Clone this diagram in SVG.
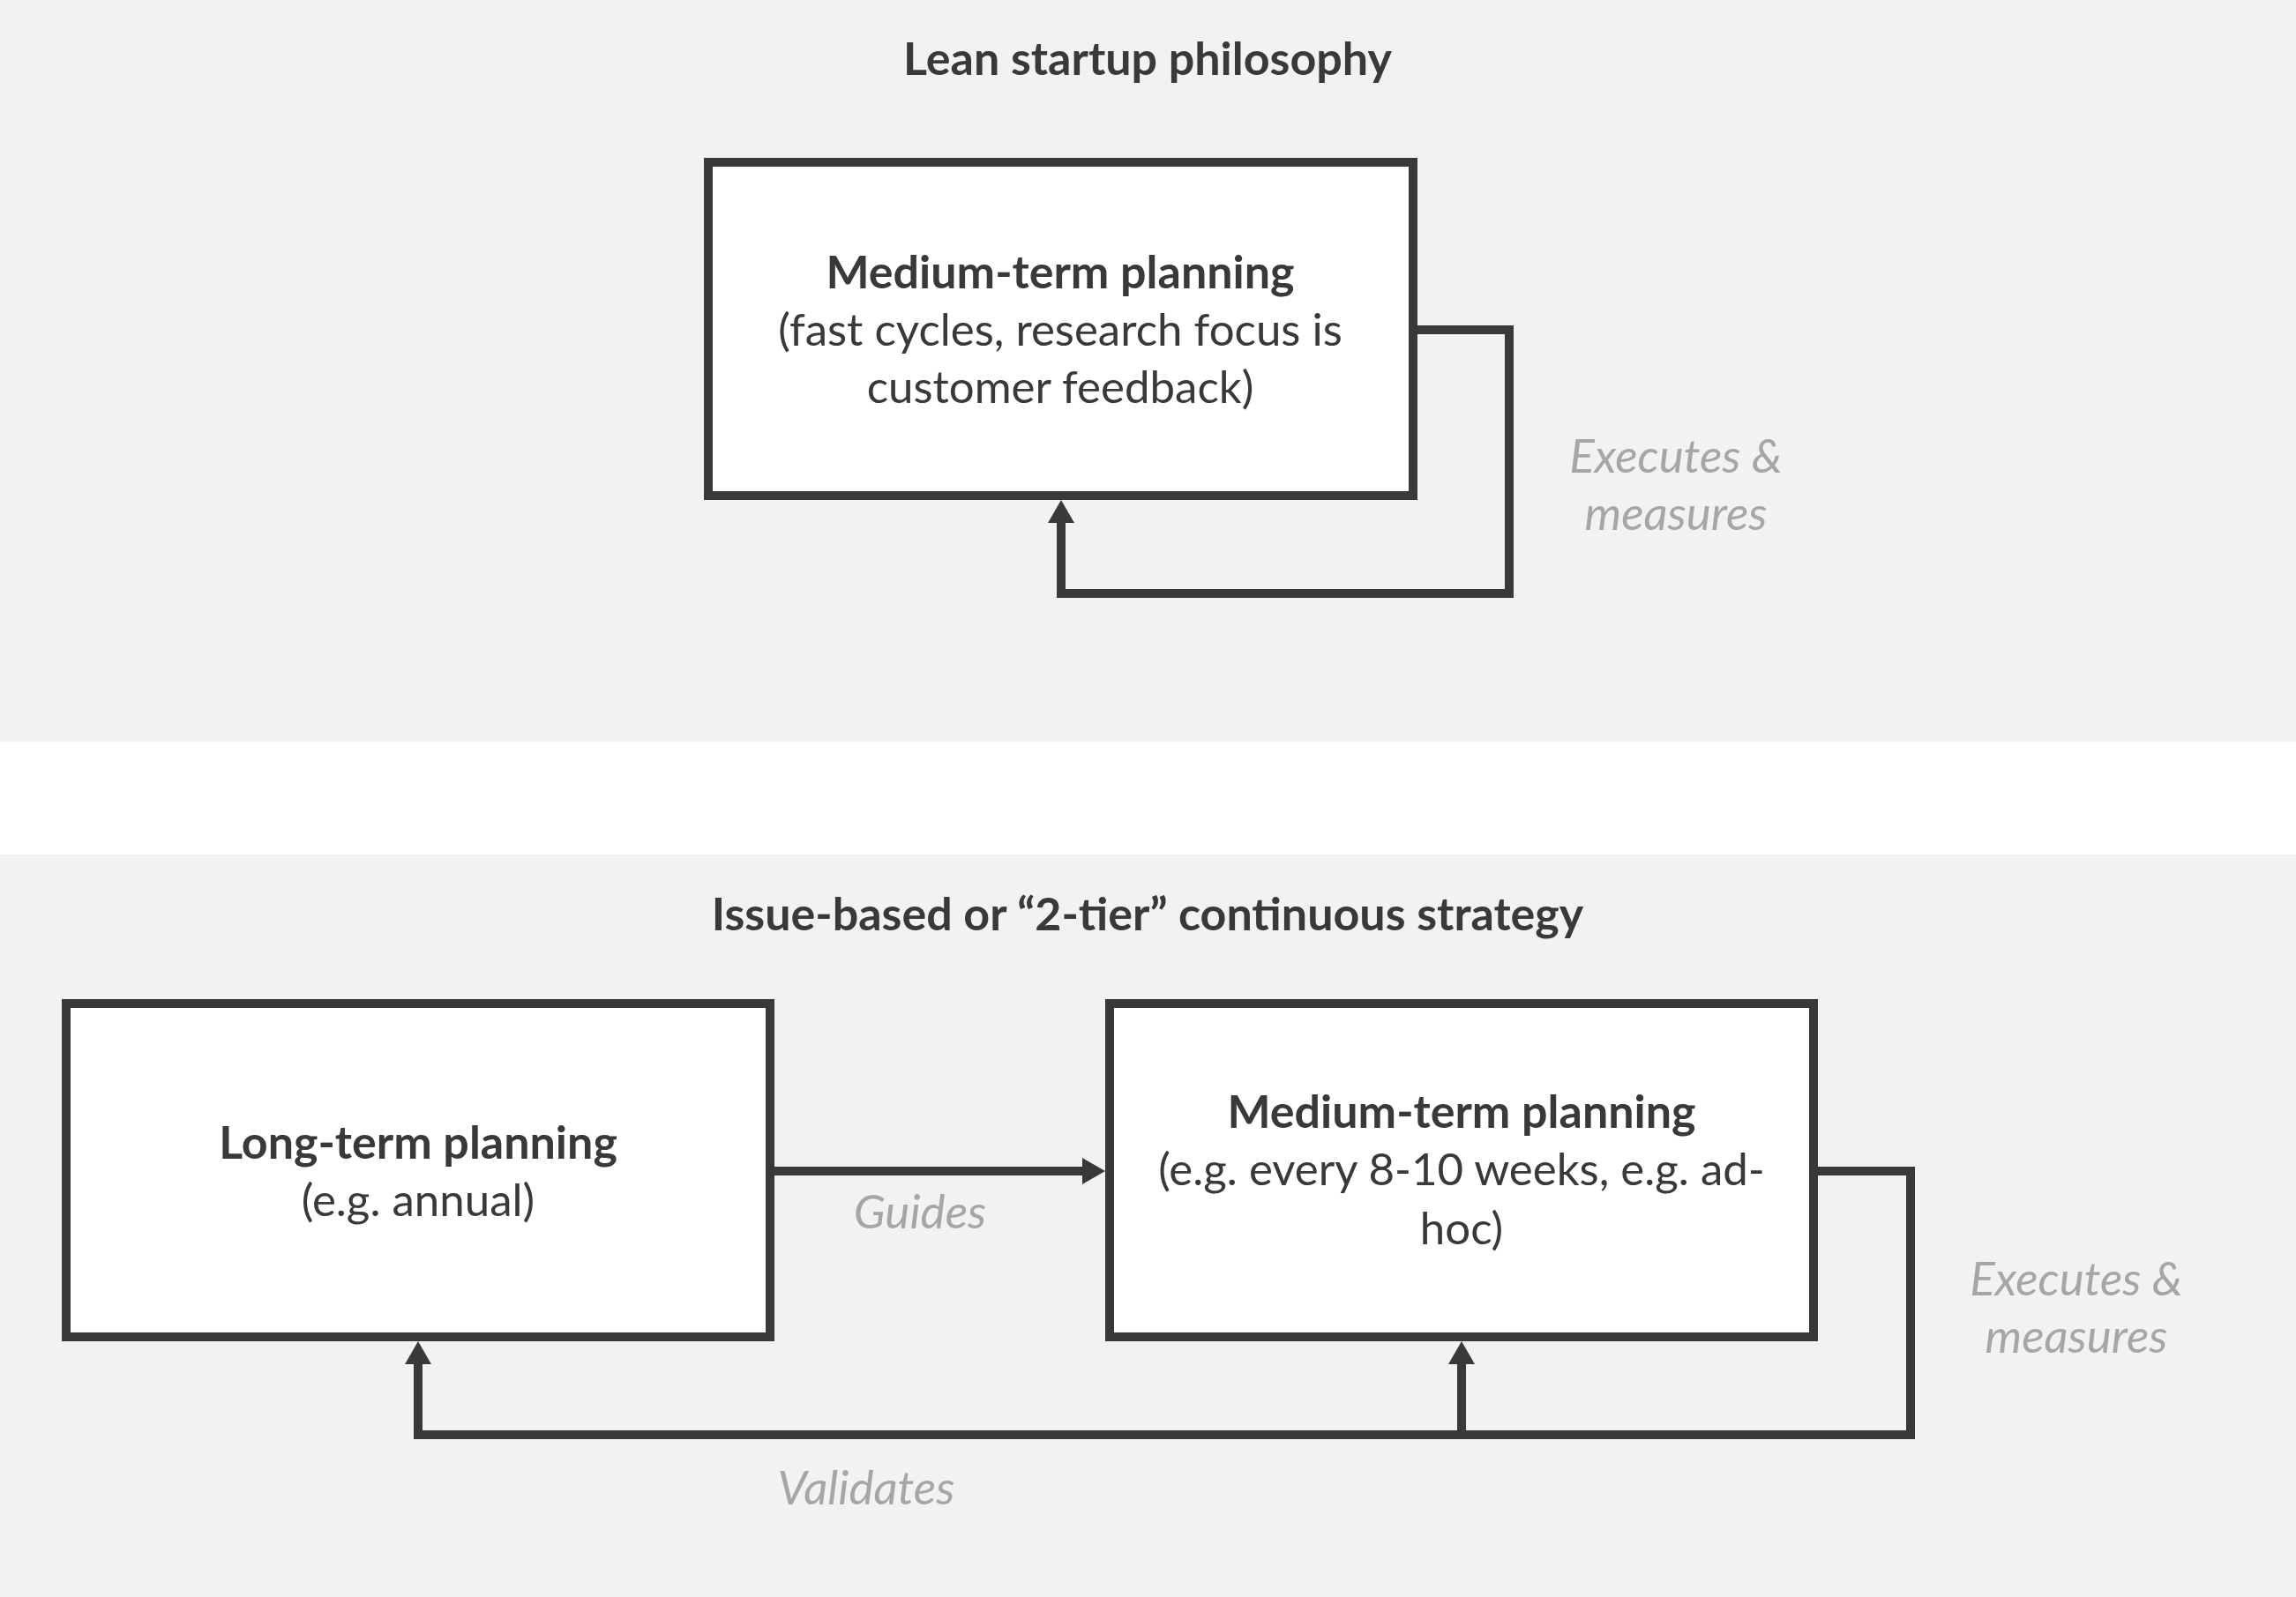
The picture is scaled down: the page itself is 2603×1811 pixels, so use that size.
<svg xmlns="http://www.w3.org/2000/svg" width="2603" height="1811" viewBox="0 0 2603 1811">
<style>
.bg{fill:#f2f2f2}
.box{fill:#ffffff;stroke:#393939;stroke-width:10}
.t{font-family:Lato,"Open Sans","Liberation Sans",sans-serif;font-size:51px;fill:#393939;text-anchor:middle}
.b{font-weight:bold;font-size:52px}
.lbl{font-family:Lato,"Open Sans","Liberation Sans",sans-serif;font-size:53px;font-style:italic;fill:#a6a6a6;text-anchor:middle}
.c{fill:none;stroke:#393939;stroke-width:10;stroke-linejoin:miter}
</style>
<defs>
<marker id="ah" viewBox="0 0 26 30" refX="0" refY="15" markerWidth="26" markerHeight="30" markerUnits="userSpaceOnUse" orient="auto">
<path d="M0,0 L26,15 L0,30 z" fill="#393939"/>
</marker>
</defs>
<rect class="bg" x="0" y="0" width="2603" height="841"/>
<rect x="0" y="841" width="2603" height="128" fill="#ffffff"/>
<rect class="bg" x="0" y="969" width="2603" height="842"/>
<text class="t b" x="1301" y="85">Lean startup philosophy</text>
<text class="t b" x="1301" y="1055">Issue-based or “2-tier” continuous strategy</text>
<g id="connectors">
<path class="c" d="M1607,374 H1711 V673 H1203 V593" marker-end="url(#ah)"/>
<path class="c" d="M878,1328 H1227" marker-end="url(#ah)"/>
<path class="c" d="M2061,1328 H2166 V1627 H474 V1547" marker-end="url(#ah)"/>
<path class="c" d="M1657,1627 V1547" marker-end="url(#ah)"/>
<text class="lbl" x="1900" y="536">Executes &amp;</text>
<text class="lbl" x="1900" y="601">measures</text>
<text class="lbl" x="1043" y="1393">Guides</text>
<text class="lbl" x="2354" y="1469">Executes &amp;</text>
<text class="lbl" x="2354" y="1534">measures</text>
<text class="lbl" x="982" y="1706">Validates</text>
</g>
<g id="node-lean-medium">
<rect class="box" x="803" y="184" width="799" height="378"/>
<text class="t b" x="1202" y="327">Medium-term planning</text>
<text class="t" x="1202" y="392">(fast cycles, research focus is</text>
<text class="t" x="1202" y="457">customer feedback)</text>
</g>
<g id="node-long">
<rect class="box" x="75" y="1138" width="798" height="378"/>
<text class="t b" x="474" y="1314">Long-term planning</text>
<text class="t" x="474" y="1379">(e.g. annual)</text>
</g>
<g id="node-medium">
<rect class="box" x="1258" y="1138" width="798" height="378"/>
<text class="t b" x="1657" y="1279">Medium-term planning</text>
<text class="t" x="1657" y="1344">(e.g. every 8-10 weeks, e.g. ad-</text>
<text class="t" x="1657" y="1411">hoc)</text>
</g>
</svg>
